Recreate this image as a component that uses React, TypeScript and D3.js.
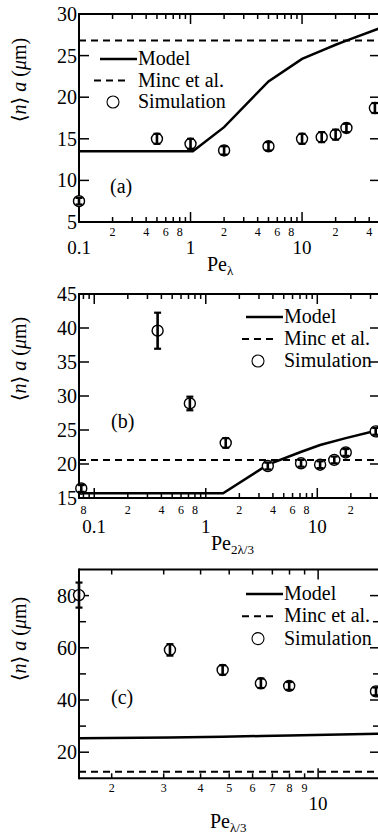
import React from 'react';
import * as d3 from 'd3';

const W = 378;
const H = 836;
const FONT = "'Liberation Serif', 'DejaVu Serif', 'Times New Roman', Times, serif";

// ---------- Panel (a) ----------
const peA = [0.1, 0.5, 1, 2, 5, 10, 15, 20, 25, 45];
const simA = [7.5, 15.0, 14.4, 13.6, 14.1, 15.0, 15.2, 15.5, 16.3, 18.7];
const errA = [0.4, 0.6, 0.6, 0.5, 0.5, 0.6, 0.6, 0.6, 0.5, 0.6];
const modelPeA = [0.1, 1.05, 2, 5, 10, 15, 20, 25, 50];
const modelA = [13.5, 13.5, 16.4, 21.9, 24.6, 25.6, 26.3, 26.8, 28.3];
const mincA = 26.8;
const yTicksA = [5, 10, 15, 20, 25, 30];
const xMajorLabelsA = [0.1, 1, 10];
const minorLabelDigitsA = [2, 4, 6, 8];

// ---------- Panel (b) ----------
const peB = [0.0765, 0.37, 0.72, 1.51, 3.6, 7.15, 10.6, 14.2, 18.0, 33.4];
const simB = [16.4, 39.6, 28.9, 23.1, 19.7, 20.1, 19.9, 20.6, 21.7, 24.8];
const errB = [0.5, 2.65, 1.0, 0.7, 0.5, 0.5, 0.5, 0.5, 0.5, 0.5];
const modelPeB = [0.073, 1.43, 3.6, 7.2, 10.6, 18, 33.4, 36.5];
const modelB = [15.7, 15.7, 19.9, 21.8, 22.8, 23.8, 24.9, 25.0];
const mincB = 20.6;
const yTicksB = [15, 20, 25, 30, 35, 40, 45];
const xMajorLabelsB = [0.1, 1, 10];
const minorLabelDigitsB = [2, 4, 6, 8];

// ---------- Panel (c) ----------
const peC = [1.55, 3.15, 4.75, 6.4, 7.98, 15.7];
const simC = [80.2, 59.2, 51.5, 46.4, 45.4, 43.3];
const errC = [4.8, 2.2, 1.8, 1.8, 1.5, 1.5];
const modelPeC = [1.55, 3.15, 4.75, 6.4, 7.98, 16.2];
const modelC = [25.3, 25.6, 25.9, 26.2, 26.4, 27.1];
const mincC = 12.5;
const yTicksC = [20, 40, 60, 80];
const yMinorTicksC = [30, 50, 70];
const xMajorLabelsC = [10];
const minorLabelDigitsC = [2, 3, 4, 5, 6, 7, 8, 9];

const mantissa = (v: number) => Math.round(v / Math.pow(10, Math.floor(Math.log10(v) + 1e-9)));

type PanelProps = {
  letter: string;
  top: number;
  bottom: number;
  left: number;
  right: number;
  xDomain: [number, number];
  yDomain: [number, number];
  pe: number[];
  sim: number[];
  err: number[];
  modelPe: number[];
  model: number[];
  minc: number;
  yTicks: number[];
  yMinor?: number[];
  xMajorLabels: number[];
  minorDigits: number[];
  minorOff: number;
  majorOff: number;
  titleY: number;
  titleX: number;
  sub: string;
  ylabelCy: number;
  legend: { lx: number; tx: number; y1: number; dx0: number; dx1: number; cx: number; row: number };
  letterPos: [number, number];
};

function Panel(p: PanelProps) {
  const x = d3.scaleLog().domain(p.xDomain).range([p.left, p.right]);
  const y = d3.scaleLinear().domain(p.yDomain).range([p.bottom, p.top]);
  const ticks = x.ticks().filter((t) => t >= p.xDomain[0] * 0.999 && t <= p.xDomain[1] * 1.001);
  const line = d3
    .line<number>()
    .x((_, i) => x(p.modelPe[i]))
    .y((d) => y(d));
  const black = '#000';
  const L = p.legend;
  const tf = { fontFamily: FONT };
  return (
    <g style={tf}>
      {/* frame */}
      <line x1={p.left} x2={p.right} y1={p.top} y2={p.top} stroke={black} strokeWidth={2} />
      <line x1={p.left} x2={p.right} y1={p.bottom} y2={p.bottom} stroke={black} strokeWidth={2} />
      <line x1={p.left} x2={p.left} y1={p.top - 1} y2={p.bottom + 1} stroke={black} strokeWidth={2} />
      <line x1={p.right} x2={p.right} y1={p.top} y2={p.bottom} stroke={black} strokeWidth={2} />
      {/* x ticks */}
      {ticks.map((t, i) => {
        const m = mantissa(t);
        const len = m === 1 ? 10 : 5;
        const xx = x(t);
        return (
          <g key={'xt' + i}>
            <line x1={xx} x2={xx} y1={p.bottom} y2={p.bottom - len} stroke={black} strokeWidth={1.5} />
            <line x1={xx} x2={xx} y1={p.top} y2={p.top + len} stroke={black} strokeWidth={1.5} />
            {m !== 1 && p.minorDigits.includes(m) ? (
              <text x={xx} y={p.bottom + p.minorOff} fontSize={12} textAnchor="middle" style={tf}>
                {m}
              </text>
            ) : null}
          </g>
        );
      })}
      {p.xMajorLabels.map((t, i) => (
        <text key={'xm' + i} x={x(t)} y={p.bottom + p.majorOff} fontSize={19} textAnchor="middle" style={tf}>
          {String(t)}
        </text>
      ))}
      {/* y ticks */}
      {p.yTicks.map((t, i) => (
        <g key={'yt' + i}>
          <line x1={p.left} x2={p.left + 10} y1={y(t)} y2={y(t)} stroke={black} strokeWidth={1.5} />
          <line x1={p.right} x2={p.right - 10} y1={y(t)} y2={y(t)} stroke={black} strokeWidth={1.5} />
          <text x={77} y={y(t)} dy="0.35em" fontSize={20} textAnchor="end" style={tf}>
            {t}
          </text>
        </g>
      ))}
      {(p.yMinor || []).map((t, i) => (
        <g key={'ym' + i}>
          <line x1={p.left} x2={p.left + 7} y1={y(t)} y2={y(t)} stroke={black} strokeWidth={1.5} />
          <line x1={p.right} x2={p.right - 7} y1={y(t)} y2={y(t)} stroke={black} strokeWidth={1.5} />
        </g>
      ))}
      {/* Minc dashed line */}
      <line x1={p.left} x2={p.right} y1={y(p.minc)} y2={y(p.minc)} stroke={black} strokeWidth={2} strokeDasharray="7 5" />
      {/* Model line */}
      <path d={line(p.model) || ''} fill="none" stroke={black} strokeWidth={2.5} />
      {/* Simulation */}
      {p.pe.map((v, i) => {
        const cx = x(v);
        const cy = y(p.sim[i]);
        const y0 = y(p.sim[i] - p.err[i]);
        const y1 = y(p.sim[i] + p.err[i]);
        return (
          <g key={'s' + i}>
            <circle cx={cx} cy={cy} r={5.5} fill="#fff" stroke={black} strokeWidth={1.4} />
            <line x1={cx} x2={cx} y1={y0} y2={y1} stroke={black} strokeWidth={2.6} />
            <line x1={cx - 3.5} x2={cx + 3.5} y1={y0} y2={y0} stroke={black} strokeWidth={2.2} />
            <line x1={cx - 3.5} x2={cx + 3.5} y1={y1} y2={y1} stroke={black} strokeWidth={2.2} />
          </g>
        );
      })}
      {/* legend */}
      <line x1={L.lx} x2={L.lx + 37} y1={L.y1} y2={L.y1} stroke={black} strokeWidth={2.5} />
      <text x={L.tx} y={L.y1 + 6} fontSize={20} style={tf}>Model</text>
      <line x1={L.dx0} x2={L.dx1} y1={L.y1 + L.row} y2={L.y1 + L.row} stroke={black} strokeWidth={2} strokeDasharray="7 5" />
      <text x={L.tx} y={L.y1 + L.row + 6} fontSize={20} style={tf}>Minc et al.</text>
      <circle cx={L.cx} cy={L.y1 + 2 * L.row} r={6} fill="none" stroke={black} strokeWidth={1.1} />
      <text x={L.tx} y={L.y1 + 2 * L.row + 6} fontSize={20} style={tf}>Simulation</text>
      {/* panel letter */}
      <text x={p.letterPos[0]} y={p.letterPos[1]} fontSize={20} style={tf}>
        {p.letter}
      </text>
      {/* x title */}
      <text x={p.titleX} y={p.titleY} fontSize={20} style={tf}>
        Pe
        <tspan fontSize={13} dy={4}>
          {p.sub}
        </tspan>
      </text>
      {/* y title */}
      <text transform={`translate(26, ${p.ylabelCy}) rotate(-90)`} fontSize={20} textAnchor="middle" style={tf}>
        ⟨<tspan fontStyle="italic">n</tspan>⟩ <tspan fontStyle="italic">a</tspan> (<tspan fontStyle="italic">μ</tspan>m)
      </text>
    </g>
  );
}

export default function App() {
  return (
    <svg
      width={W}
      height={H}
      viewBox={`0 0 ${W} ${H}`}
      style={{ position: 'absolute', left: 0, top: 0, background: '#fff', overflow: 'hidden', fontFamily: FONT }}
    >
      <rect x={0} y={0} width={W} height={H} fill="#fff" />
      <Panel
        letter="(a)"
        top={14}
        bottom={222}
        left={79}
        right={380}
        xDomain={[0.1, 50]}
        yDomain={[5, 30]}
        pe={peA}
        sim={simA}
        err={errA}
        modelPe={modelPeA}
        model={modelA}
        minc={mincA}
        yTicks={yTicksA}
        xMajorLabels={xMajorLabelsA}
        minorDigits={minorLabelDigitsA}
        minorOff={14}
        majorOff={32}
        titleY={271}
        titleX={207}
        sub="λ"
        ylabelCy={80}
        legend={{ lx: 100, tx: 138, y1: 59, dx0: 94, dx1: 130, cx: 113, row: 21.5 }}
        letterPos={[110, 193]}
      />
      <Panel
        letter="(b)"
        top={294}
        bottom={498}
        left={79}
        right={380}
        xDomain={[0.073, 36.5]}
        yDomain={[15, 45]}
        pe={peB}
        sim={simB}
        err={errB}
        modelPe={modelPeB}
        model={modelB}
        minc={mincB}
        yTicks={yTicksB}
        xMajorLabels={xMajorLabelsB}
        minorDigits={minorLabelDigitsB}
        minorOff={16}
        majorOff={35}
        titleY={550}
        titleX={211}
        sub="2λ/3"
        ylabelCy={359}
        legend={{ lx: 246, tx: 284, y1: 317, dx0: 242, dx1: 277, cx: 258, row: 22 }}
        letterPos={[111, 428]}
      />
      <Panel
        letter="(c)"
        top={569.5}
        bottom={778.3}
        left={79}
        right={380}
        xDomain={[1.55, 16.2]}
        yDomain={[10, 90]}
        pe={peC}
        sim={simC}
        err={errC}
        modelPe={modelPeC}
        model={modelC}
        minc={mincC}
        yTicks={yTicksC}
        yMinor={yMinorTicksC}
        xMajorLabels={xMajorLabelsC}
        minorDigits={minorLabelDigitsC}
        minorOff={14}
        majorOff={32}
        titleY={828}
        titleX={210}
        sub="λ/3"
        ylabelCy={639}
        legend={{ lx: 246, tx: 284, y1: 594, dx0: 242, dx1: 277, cx: 258, row: 22.3 }}
        letterPos={[111, 704]}
      />
    </svg>
  );
}
